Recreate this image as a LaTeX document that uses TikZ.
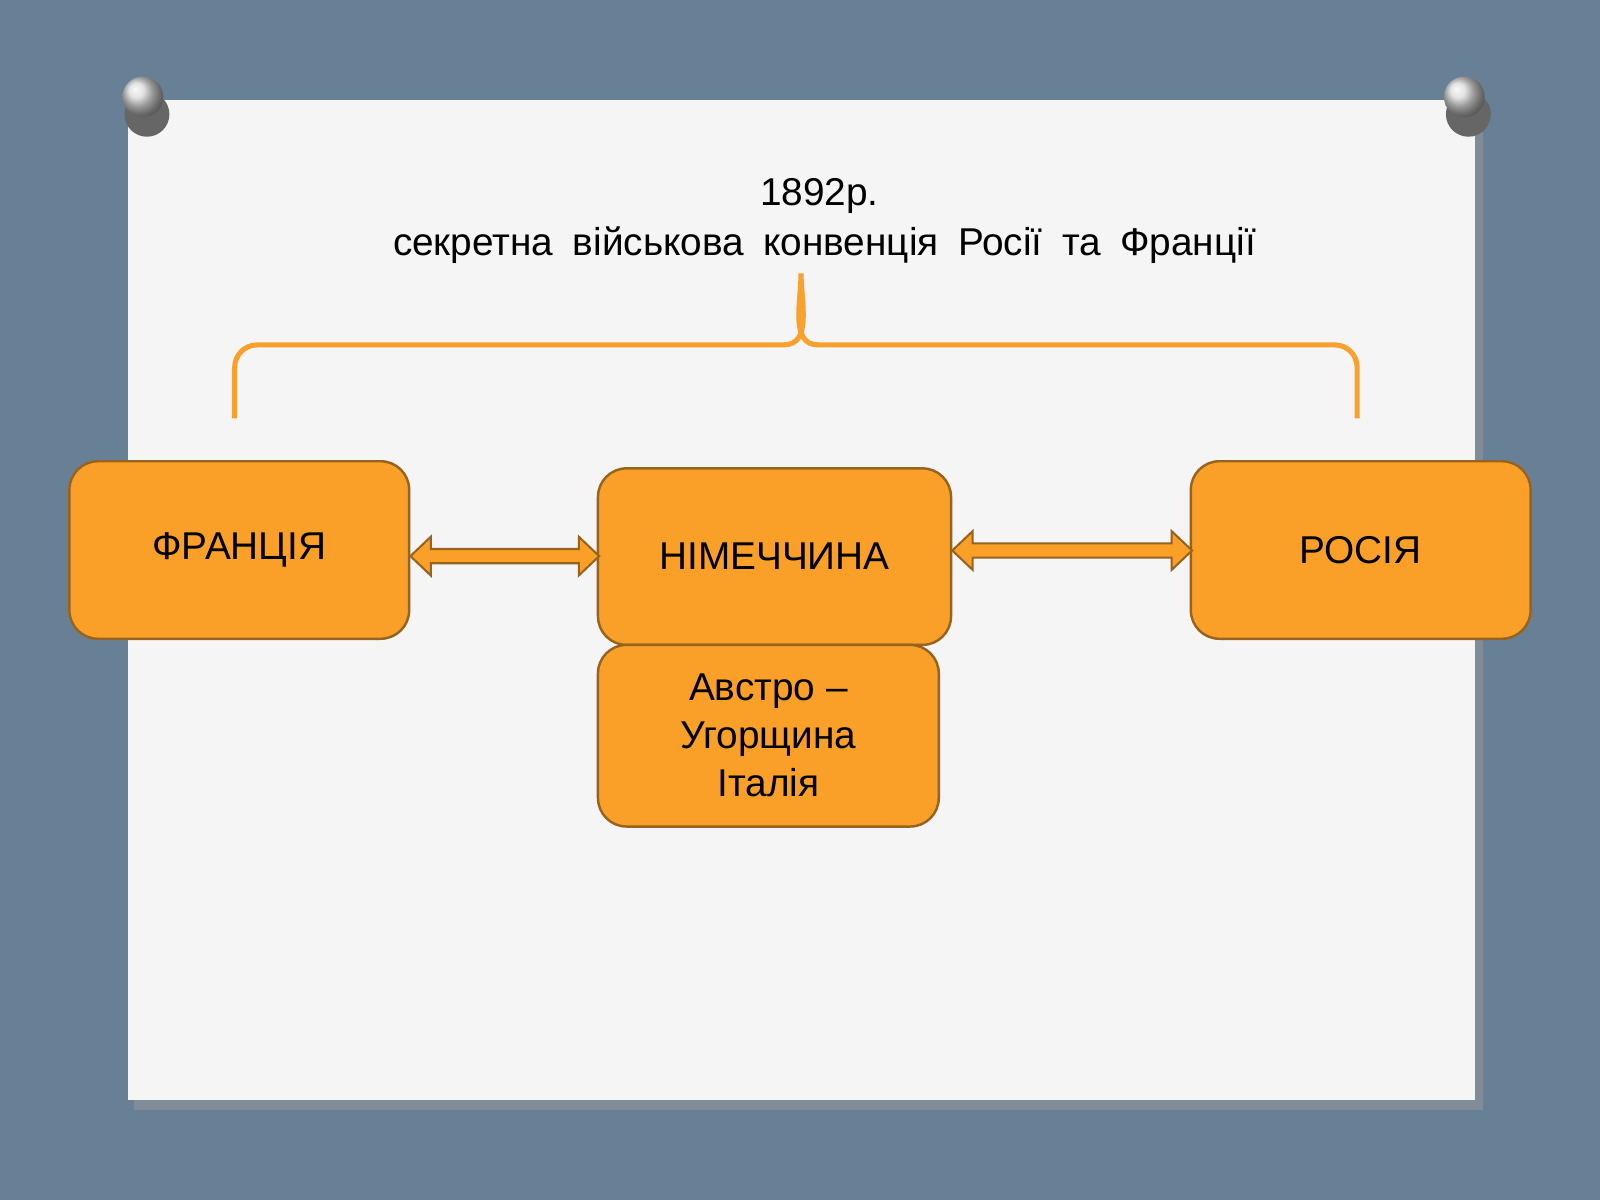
\documentclass[tikz,border=0pt]{standalone}
\usepackage{fontspec}
\setmainfont{Liberation Sans}
\definecolor{boxor}{RGB}{250,160,40}
\definecolor{boxbr}{RGB}{150,100,30}
\definecolor{brace}{RGB}{250,160,45}
\newcommand{\ws}{\hspace{0.5em}}
\begin{document}
\begin{tikzpicture}[x=0.5pt,y=-0.5pt,
  box/.style={draw=boxbr,line width=1.2pt,fill=boxor,rounded corners=14pt,font=\fontsize{19}{23.5}\selectfont,align=center,inner sep=0pt},
  arr/.style={draw=boxbr,line width=1pt,fill=boxor}]
\useasboundingbox (0,0) rectangle (1568,1176);
\fill[fill={rgb,255:red,104;green,128;blue,150}] (0,0) rectangle (1568,1176);
\fill[black!40,opacity=0.5] (131,106) rectangle (1453,1088);
\fill[gray!8] (125,98) rectangle (1445,1078);
\foreach \px in {140,1435}{
  \fill[black!60] (\px+4,112) circle (22);
  \shade[ball color=gray!30] (\px,95) circle (20);
}
\node[font=\fontsize{19}{23}\selectfont] (yr) at (803,192) {1892р.};
\node[font=\fontsize{19}{23}\selectfont,inner sep=0pt] (tt) at (808,240) {секретна\ws військова\ws конвенція\ws Росії\ws та\ws Франції};
\draw[brace,line width=2.5pt] (230,410) -- (230,360) to[out=90,in=180] (252,338) -- (768,338) to[out=0,in=-90] (785,268)
  to[out=-90,in=180] (802,338) -- (1308,338) to[out=0,in=90] (1330,360) -- (1330,410);
\node[box,minimum width=166.5pt,minimum height=87pt] (fr) at (234.5,539) {ФРАНЦІЯ};
\node[box,minimum width=173pt,minimum height=86.5pt] (de) at (759,545.5) {\raisebox{-6pt}{НІМЕЧЧИНА}};
\node[box,minimum width=166.5pt,minimum height=87pt] (ru) at (1333.5,539) {РОСІЯ};
\node[box,minimum width=167pt,minimum height=89pt] (au) at (753,721) {Австро –\\Угорщина\\Італія};
\draw[arr] (fr.east) ++(0,6) coordinate (a1) -- ++(20,-19) -- ++(0,12) -- ++(145,0) -- ++(0,-12) -- ++(20,19) -- ++(-20,19) -- ++(0,-12) -- ++(-145,0) -- ++(0,12) -- cycle;
\draw[arr] (de.east) ++(0,-6) coordinate (a2) -- ++(20,-19) -- ++(0,12) -- ++(195,0) -- ++(0,-12) -- ++(20,19) -- ++(-20,19) -- ++(0,-12) -- ++(-195,0) -- ++(0,12) -- cycle;
\end{tikzpicture}
\end{document}
